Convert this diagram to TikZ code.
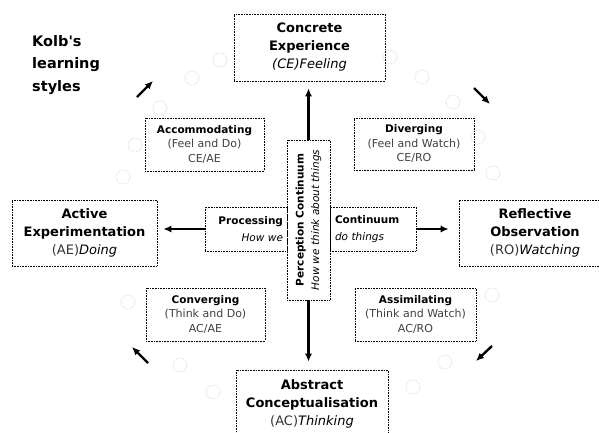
\documentclass[tikz,border=0pt]{standalone}
\usepackage{fontspec}
\setmainfont[Ligatures=TeXOff]{DejaVu Sans}
\usetikzlibrary{arrows.meta}
\begin{document}
\begin{tikzpicture}[x=1pt,y=-1pt,
  box/.style={draw=black, densely dotted, line width=0.6pt, align=center, inner sep=0pt, text=black},
  bigbox/.style={box, font=\fontsize{13}{18}\selectfont},
  smallbox/.style={box, font=\fontsize{10.5}{14.5}\selectfont},
  thickarrow/.style={-{Latex[length=8pt,width=7pt]}, line width=2.4pt, black, solid},
  blob/.style={draw=black!15, densely dotted, line width=0.8pt}]
\useasboundingbox[fill=white] (0,0) rectangle (599,432);

% faint decorative blobs
\foreach \p in {(220,60),(192,78),(160,108),(135,145),(123,177),
                (390,57),(422,77),(453,102),(478,137),(493,173),
                (128,302),(180,365),(213,392),
                (492,295),(445,362),(413,387)}
  \draw[blob] \p circle (7);

% main boxes
\node[bigbox, minimum width=151, minimum height=67] (CE) at (309.5,47.5)
  {\textbf{Concrete}\\ \textbf{Experience}\\ \textit{(CE)Feeling}};
\node[bigbox, minimum width=145, minimum height=66] (AE) at (84.5,233)
  {\textbf{Active}\\ \textbf{Experimentation}\\ {\color{black!80}(AE)}\textit{Doing}};
\node[bigbox, minimum width=152, minimum height=66] (RO) at (535,233)
  {\textbf{Reflective}\\ \textbf{Observation}\\ {\color{black!80}(RO)}\textit{Watching}};
\node[bigbox, minimum width=152, minimum height=67] (AC) at (312,403.5)
  {\textbf{Abstract}\\ \textbf{Conceptualisation}\\ {\color{black!80}(AC)}\textit{Thinking}};

% style boxes
\node[smallbox, minimum width=119, minimum height=53] (ACC) at (204.5,144.5)
  {\textbf{Accommodating}\\ {\fontsize{11}{14.5}\selectfont\color{black!75}(Feel and Do)}\\ {\fontsize{11}{14.5}\selectfont\color{black!75}CE/AE}};
\node[smallbox, minimum width=120, minimum height=52] (DIV) at (414,144)
  {\textbf{Diverging}\\ {\fontsize{11}{14.5}\selectfont\color{black!75}(Feel and Watch)}\\ {\fontsize{11}{14.5}\selectfont\color{black!75}CE/RO}};
\node[smallbox, minimum width=119, minimum height=53] (CON) at (205.5,314.5)
  {\textbf{Converging}\\ {\fontsize{11}{14.5}\selectfont\color{black!75}(Think and Do)}\\ {\fontsize{11}{14.5}\selectfont\color{black!75}AC/AE}};
\node[smallbox, minimum width=121, minimum height=53] (ASS) at (415.5,314.5)
  {\textbf{Assimilating}\\ {\fontsize{11}{14.5}\selectfont\color{black!75}(Think and Watch)}\\ {\fontsize{11}{14.5}\selectfont\color{black!75}AC/RO}};

% processing continuum
\node[smallbox, align=right, minimum width=82, minimum height=44, text width=74] (PROC) at (246,229)
  {\textbf{Processing}\\[3pt] \textit{How we}};
\node[smallbox, align=left, minimum width=86, minimum height=44, text width=76] (CONT) at (373,229)
  {\textbf{Continuum}\\[3pt] \textit{do things}};

% perception continuum
\node[smallbox, rotate=90, minimum width=160, minimum height=43] (PERC) at (308.5,220)
  {\textbf{Perception Continuum}\\[1pt] \textit{How we think about things}};

% title
\node[anchor=north west, align=left, inner sep=0pt, font=\fontsize{14.5}{22.5}\selectfont\bfseries] (TITLE) at (32,35)
  {Kolb's\\ learning\\ styles};

% axis arrows
\draw[thickarrow, shorten >=7pt] (PERC.east) -- (PERC.east |- CE.south);
\draw[thickarrow, shorten >=8pt] (PERC.west) -- (PERC.west |- AC.north);
\draw[thickarrow, shorten >=6pt] (PROC.west) -- (PROC.west -| AE.east);
\draw[thickarrow, shorten >=10pt] (CONT.east) -- (CONT.east -| RO.west);

% cycle arrows
\coordinate (a1) at (137,97);  \coordinate (b1) at (153,81);
\coordinate (a2) at (474,88);  \coordinate (b2) at (490,104);
\coordinate (a3) at (492,346); \coordinate (b3) at (476,361);
\coordinate (a4) at (148,363); \coordinate (b4) at (132,347);
\draw[thickarrow] (a1) -- (b1);
\draw[thickarrow] (a2) -- (b2);
\draw[thickarrow] (a3) -- (b3);
\draw[thickarrow] (a4) -- (b4);
\end{tikzpicture}
\end{document}
